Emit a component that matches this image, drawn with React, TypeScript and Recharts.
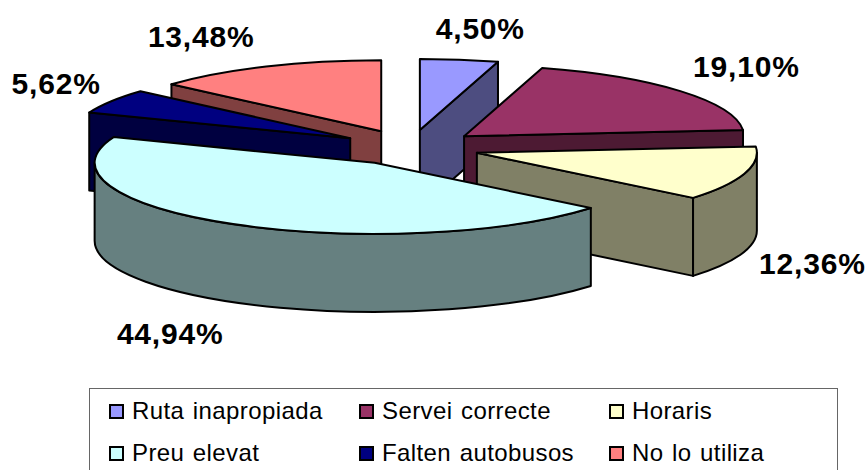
import { PieChart, Pie, Legend } from "recharts";

const categories = ["Ruta inapropiada", "Servei correcte", "Horaris", "Preu elevat", "Falten autobusos", "No lo utiliza"];
const shares = [4.5, 19.1, 12.36, 44.94, 5.62, 13.48];
const topColors = ["#9999FF", "#993366", "#FFFFCC", "#CCFFFF", "#000080", "#FF8080"];
const sideColors = ["#4D4D80", "#4D1A33", "#808066", "#668080", "#000040", "#804040"];
// painter's order, back slices first
const drawOrder = [5, 0, 1, 4, 2, 3];
// label shift from the middle of each slice's outer edge
const labelShift = [
  [21, -31],
  [66, -25],
  [68, 90],
  [-63, 109],
  [-55, -18],
  [-65, -30],
];

const data = categories.map((name, i) => ({
  name,
  value: shares[i],
  fill: topColors[i],
  side: sideColors[i],
  idx: i,
}));

const W = 868;
const H = 470;
const TILT = 0.2536; // ellipse ry / rx
const DEPTH = 78;
const EXPLODE = 70;
const rad = (d: number) => (d * Math.PI) / 180;

function Slice3D(props: any) {
  const { cx, cy, outerRadius: rx, startAngle, endAngle, fill, payload } = props;
  const ry = rx * TILT;
  // clockwise degrees from 12 o'clock
  const a0 = 90 - startAngle;
  const a1 = 90 - endAngle;
  const mid = (a0 + a1) / 2;
  const ox = cx + EXPLODE * Math.sin(rad(mid));
  const oy = cy - EXPLODE * TILT * Math.cos(rad(mid));
  const pt = (a: number, dy = 0): [number, number] => [
    ox + rx * Math.sin(rad(a)),
    oy - ry * Math.cos(rad(a)) + dy,
  ];
  const wall = (a: number) => {
    const [x, y] = pt(a);
    return `M${ox},${oy} L${x},${y} L${x},${y + DEPTH} L${ox},${oy + DEPTH} Z`;
  };
  const side = payload.side;
  const line = { stroke: "#000", strokeWidth: 2, strokeLinejoin: "round" as const };

  const walls = [];
  if (Math.sin(rad(a0)) < -0.001) walls.push(wall(a0));
  if (Math.sin(rad(a1)) > 0.001) walls.push(wall(a1));

  // outer rim is only seen on the front half
  const r0 = Math.max(a0, 90);
  const r1 = Math.min(a1, 270);
  let rim = "";
  if (r1 > r0) {
    const [x0, y0] = pt(r0);
    const [x1, y1] = pt(r1);
    const large = r1 - r0 > 180 ? 1 : 0;
    rim =
      `M${x0},${y0} A${rx},${ry} 0 ${large} 1 ${x1},${y1} ` +
      `L${x1},${y1 + DEPTH} A${rx},${ry} 0 ${large} 0 ${x0},${y0 + DEPTH} Z`;
  }

  const [sx, sy] = pt(a0);
  const [ex, ey] = pt(a1);
  const top = `M${ox},${oy} L${sx},${sy} A${rx},${ry} 0 ${a1 - a0 > 180 ? 1 : 0} 1 ${ex},${ey} Z`;
  const [mx, my] = pt(mid);
  const shift = labelShift[payload.idx];

  return (
    <g>
      {walls.map((d, i) => (
        <path key={i} d={d} fill={side} {...line} />
      ))}
      {rim && <path d={rim} fill={side} {...line} />}
      <path d={top} fill={fill} {...line} />
      <text
        x={mx + shift[0]}
        y={my + shift[1]}
        textAnchor="middle"
        dominantBaseline="central"
        fontFamily="Liberation Sans"
        fontWeight="bold"
        fontSize={30}
        letterSpacing={0.8}
        fill="#000"
      >
        {payload.value.toFixed(2).replace(".", ",")}%
      </text>
    </g>
  );
}

function LegendBox() {
  return (
    <div
      style={{
        boxSizing: "border-box",
        width: 749,
        height: 90,
        border: "1px solid #666",
        background: "#fff",
        display: "grid",
        gridTemplateColumns: "250px 250px 200px",
        gridAutoRows: "42px",
        paddingLeft: 19,
        paddingTop: 1,
        fontFamily: "Liberation Sans",
        fontSize: 24,
        letterSpacing: 0.4,
        wordSpacing: 1.5,
        color: "#000",
      }}
    >
      {categories.map((c, i) => (
        <div key={c} style={{ display: "flex", alignItems: "center", whiteSpace: "pre" }}>
          <span
            style={{
              boxSizing: "border-box",
              width: 15,
              height: 15,
              border: "2px solid #000",
              background: topColors[i],
              marginRight: 8,
            }}
          />
          {c}
        </div>
      ))}
    </div>
  );
}

export default function App() {
  return (
    <div style={{ position: "absolute", left: 0, top: 0, width: W, height: H, overflow: "hidden", background: "#fff" }}>
      <PieChart width={W} height={H} margin={{ top: 0, right: 0, bottom: 0, left: 0 }}>
        {drawOrder.map((slot) => (
          <Pie
            key={slot}
            data={data}
            dataKey="value"
            nameKey="name"
            cx={410}
            cy={147.5}
            innerRadius={0}
            outerRadius={280}
            startAngle={90}
            endAngle={-270}
            stroke="none"
            isAnimationActive={false}
            legendType="none"
            shape={(p: any) => (p.payload.idx === slot ? <Slice3D {...p} /> : <g />)}
          />
        ))}
        <Legend
          content={() => <LegendBox />}
          wrapperStyle={{ position: "absolute", left: 89, top: 388, width: 749, height: 90 }}
        />
      </PieChart>
    </div>
  );
}
